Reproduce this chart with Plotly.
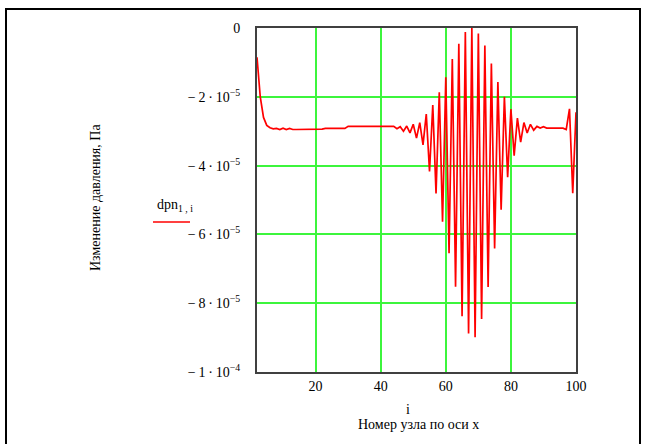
import plotly.graph_objects as go

# Node numbers along x
nodes = list(range(2, 101))

# Pressure change at each node, in units of 1e-5 Pa
dpn_e5 = [
    -0.85, -2.00, -2.60, -2.83, -2.90, -2.93, -2.92, -2.95, -2.91, -2.95,   # 2-11
    -2.92, -2.95, -2.95, -2.95, -2.95, -2.95, -2.95, -2.95, -2.95, -2.95,   # 12-21
    -2.94, -2.92, -2.92, -2.92, -2.92, -2.92, -2.92, -2.92, -2.86, -2.86,   # 22-31
    -2.86, -2.86, -2.86, -2.86, -2.86, -2.86, -2.86, -2.86, -2.86, -2.86,   # 32-41
    -2.86, -2.86, -2.86, -2.93, -2.87, -3.00, -2.85, -3.05, -2.80, -3.20,   # 42-51
    -2.75, -3.40, -2.50, -4.17, -2.24, -4.81, -1.87, -5.63, -1.43, -6.55,   # 52-61
    -0.90, -7.52, -0.46, -8.38, -0.12, -8.88, 0.00, -8.99, -0.16, -8.46,    # 62-71
    -0.51, -7.53, -1.03, -6.41, -1.57, -5.28, -2.00, -4.34, -2.36, -3.71,   # 72-81
    -2.62, -3.32, -2.75, -3.05, -2.80, -2.97, -2.86, -2.91, -2.87, -2.91,   # 82-91
    -2.91, -2.91, -2.91, -2.91, -2.91, -2.95, -2.35, -4.80, -2.45,          # 92-100
]
dpn = [v * 1e-5 for v in dpn_e5]

# Axis ticks
x_ticks = [20, 40, 60, 80, 100]
y_ticks = [0, -2e-5, -4e-5, -6e-5, -8e-5, -1e-4]
MINUS, DOT, THIN = "\u2212", "\u00b7", "\u2009"
y_tick_text = ["0"] + [
    f"{MINUS}{THIN}{m}{THIN}{DOT}{THIN}10<sup>{MINUS}{e}</sup>"
    for m, e in [("2", 5), ("4", 5), ("6", 5), ("8", 5), ("1", 4)]
]

SERIF = "Times New Roman"
GRID = "#3cf53c"
FRAME = "#404040"

fig = go.Figure()
fig.add_trace(go.Scatter(x=nodes, y=dpn, mode="lines",
                         line=dict(color="#ff0000", width=1.7),
                         showlegend=False, hoverinfo="skip"))

fig.update_layout(
    width=655, height=444,
    margin=dict(l=257, r=79, t=28, b=72),
    paper_bgcolor="white", plot_bgcolor="white",
    font=dict(family=SERIF, size=14, color="black"),
    xaxis=dict(range=[2, 100], tickvals=x_ticks, ticktext=[str(t) for t in x_ticks],
               showgrid=True, gridcolor=GRID, gridwidth=2,
               showline=True, linecolor=FRAME, linewidth=2, mirror=True,
               zeroline=False, ticks="", ticklabelstandoff=0,
               tickfont=dict(family=SERIF, size=14)),
    yaxis=dict(range=[-1e-4, 0], tickvals=y_ticks, ticktext=y_tick_text,
               showgrid=True, gridcolor=GRID, gridwidth=2,
               showline=True, linecolor=FRAME, linewidth=2, mirror=True,
               zeroline=False, ticks="", ticklabelstandoff=12,
               tickfont=dict(family=SERIF, size=14)),
)

# Outer frame of the worksheet region
fig.add_shape(type="rect", xref="paper", yref="paper",
              x0=(6 - 257) / 319, x1=(640 - 257) / 319,
              y0=(372 - 460) / 344, y1=(372 - 9) / 344,
              line=dict(color="black", width=2), layer="below")

# Legend sample line and label
fig.add_shape(type="line", xref="paper", yref="paper",
              x0=(153 - 257) / 319, x1=(190 - 257) / 319,
              y0=(372 - 222) / 344, y1=(372 - 222) / 344,
              line=dict(color="#ff0000", width=1.5))
fig.add_annotation(xref="paper", yref="paper",
                   x=(155 - 257) / 319, y=(372 - 205) / 344,
                   xanchor="left", yanchor="middle", showarrow=False,
                   text="dpn<sub>1 , i</sub>", font=dict(family=SERIF, size=14))

# Axis titles
fig.add_annotation(xref="paper", yref="paper",
                   x=(95 - 257) / 319, y=(372 - 198) / 344,
                   xanchor="center", yanchor="middle", showarrow=False, textangle=-90,
                   text="Изменение давления, Па", font=dict(family=SERIF, size=14))
fig.add_annotation(xref="paper", yref="paper",
                   x=(408 - 257) / 319, y=(372 - 409) / 344,
                   xanchor="center", yanchor="middle", showarrow=False,
                   text="i", font=dict(family=SERIF, size=14))
fig.add_annotation(xref="paper", yref="paper",
                   x=(418 - 257) / 319, y=(372 - 424) / 344,
                   xanchor="center", yanchor="middle", showarrow=False,
                   text="Номер узла по оси x", font=dict(family=SERIF, size=14))

fig.write_html("out.html")
